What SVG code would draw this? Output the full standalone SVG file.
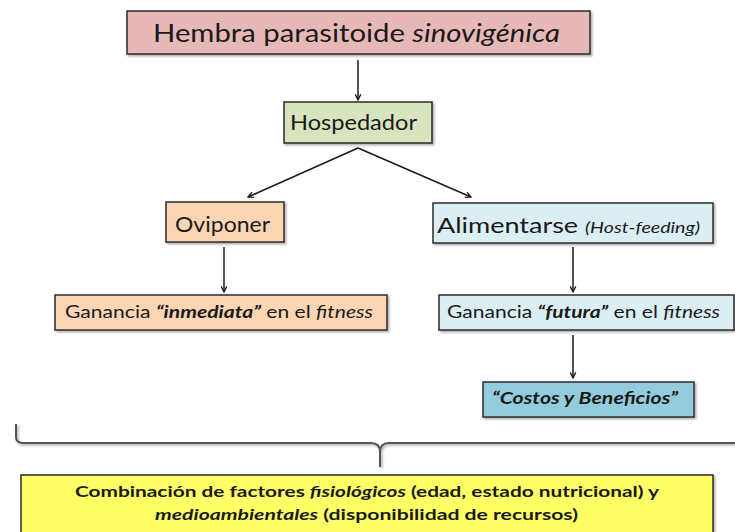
<svg xmlns="http://www.w3.org/2000/svg" width="735" height="532" viewBox="0 0 735 532">
<style>
  .box{stroke:#2b2b2b;stroke-width:1.5;filter:url(#sh)}
  .t{font-family:Lato,"Liberation Sans",sans-serif;fill:#1a1a1a}
  .i{font-style:italic}
  .bi{font-weight:bold;font-style:italic}
  .con{stroke:#1a1a1a;stroke-width:1.5;fill:none;marker-end:url(#ah)}
</style>
<defs>
  <filter id="sh" x="-5%" y="-20%" width="110%" height="150%">
    <feDropShadow dx="1.5" dy="1.5" stdDeviation="1" flood-color="#000" flood-opacity="0.35"/>
  </filter>
  <marker id="ah" viewBox="0 0 10 10" refX="9" refY="5" markerWidth="7" markerHeight="7" orient="auto" markerUnits="userSpaceOnUse">
    <path d="M1,1 L9,5 L1,9" fill="none" stroke="#1a1a1a" stroke-width="1.8"/>
  </marker>
</defs>
<rect width="735" height="532" fill="#fff"/>

<g id="connectors">
  <line class="con" x1="358" y1="60" x2="358" y2="100"/>
  <line class="con" x1="358" y1="148" x2="248" y2="197"/>
  <line class="con" x1="358" y1="148" x2="471" y2="197"/>
  <line class="con" x1="224" y1="247" x2="224" y2="292"/>
  <line class="con" x1="573" y1="247" x2="573" y2="292"/>
  <line class="con" x1="573" y1="335" x2="573" y2="378"/>
  <path d="M16,424 L16,437 Q16,443 23,443 L371,443 Q380,443 380,452 L380,467 M380,452 Q380,443 389,443 L740,443" fill="none" stroke="#555" stroke-width="2" filter="url(#sh)"/>
</g>

<g id="hembra">
  <rect class="box" x="127" y="11" width="463" height="43" fill="#e6b8b7"/>
  <text class="t" x="153" y="42" font-size="25" textLength="407" lengthAdjust="spacingAndGlyphs">Hembra parasitoide <tspan class="i">sinovigénica</tspan></text>
</g>

<g id="hospedador">
  <rect class="box" x="284" y="102" width="148" height="41" fill="#d7e4bd"/>
  <text class="t" x="290" y="130" font-size="21" textLength="127" lengthAdjust="spacingAndGlyphs">Hospedador</text>
</g>

<g id="oviponer">
  <rect class="box" x="166" y="202" width="118" height="40" fill="#fcd5b5"/>
  <text class="t" x="175" y="232" font-size="22" textLength="95" lengthAdjust="spacingAndGlyphs">Oviponer</text>
</g>

<g id="alimentarse">
  <rect class="box" x="433" y="203" width="280" height="40" fill="#dbeef4"/>
  <text class="t" x="437" y="233" font-size="22" textLength="263" lengthAdjust="spacingAndGlyphs">Alimentarse <tspan class="i" font-size="16">(Host-feeding)</tspan></text>
</g>

<g id="inmediata">
  <rect class="box" x="55" y="295" width="332" height="35" fill="#fcd5b5"/>
  <text class="t" x="65" y="318" font-size="16.5" textLength="308" lengthAdjust="spacingAndGlyphs">Ganancia <tspan class="bi">“inmediata”</tspan> en el <tspan class="i">fitness</tspan></text>
</g>

<g id="futura">
  <rect class="box" x="439" y="295" width="295" height="35" fill="#dbeef4"/>
  <text class="t" x="447" y="318" font-size="16.5" textLength="273" lengthAdjust="spacingAndGlyphs">Ganancia <tspan class="bi">“futura”</tspan> en el <tspan class="i">fitness</tspan></text>
</g>

<g id="costos">
  <rect class="box" x="483" y="382" width="211" height="35" fill="#93cddd"/>
  <text class="t bi" x="492" y="404" font-size="17" textLength="186" lengthAdjust="spacingAndGlyphs">“Costos y Beneficios”</text>
</g>

<g id="combinacion">
  <rect class="box" x="21" y="475" width="692" height="70" fill="#ffff66"/>
  <text class="t" x="75" y="497" font-size="15.5" font-weight="bold" textLength="584" lengthAdjust="spacingAndGlyphs">Combinación  de factores <tspan class="i">fisiológicos</tspan>  (edad, estado nutricional) y</text>
  <text class="t" x="155" y="520" font-size="15.5" font-weight="bold" textLength="423" lengthAdjust="spacingAndGlyphs"><tspan class="i">medioambientales</tspan>  (disponibilidad  de recursos)</text>
</g>
</svg>
